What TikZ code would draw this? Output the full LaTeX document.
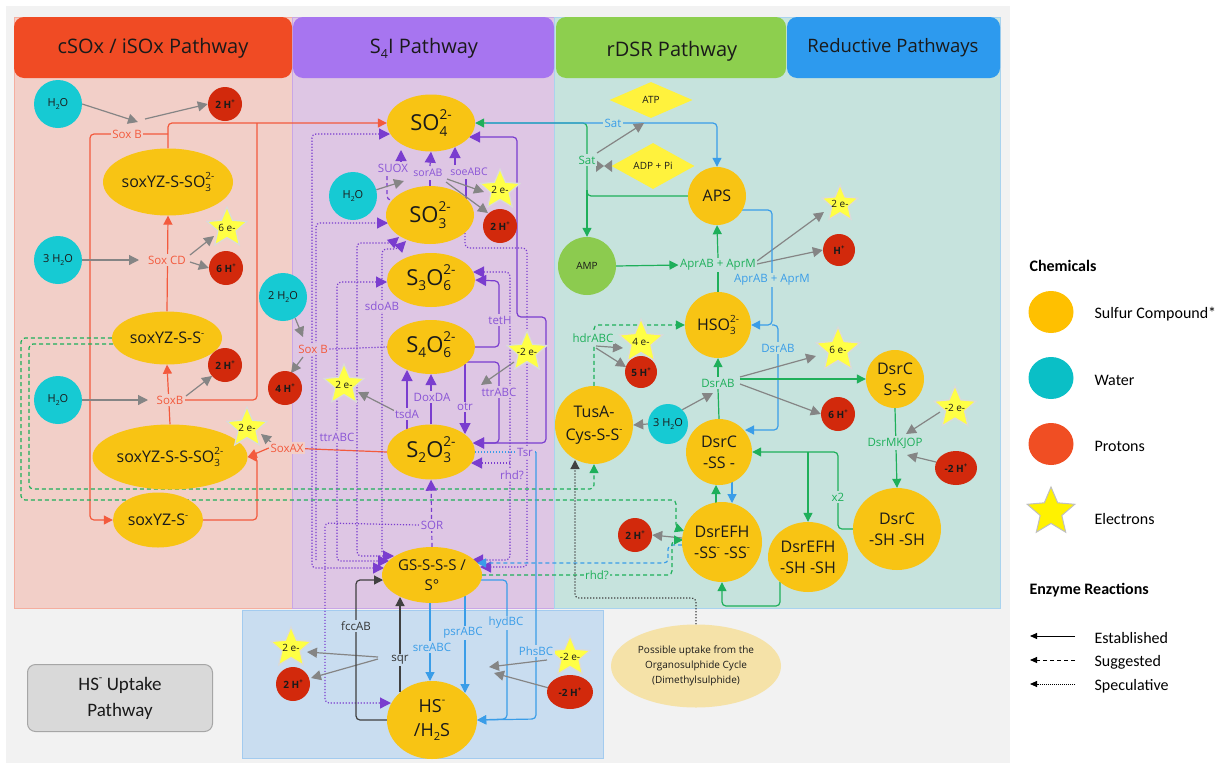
\documentclass[tikz,border=0pt]{standalone}
\usepackage{fontspec}
\setmainfont{Open Sans}
\newfontfamily\legfont{Carlito}
\usetikzlibrary{shapes.geometric,arrows.meta}
\pgfdeclarelayer{bg}
\pgfdeclarelayer{edges}
\pgfsetlayers{bg,edges,main}
\newcommand{\fsl}[2]{\fontsize{#1}{#2}\selectfont}
\newcommand{\chss}[2]{\mbox{\ooalign{\raisebox{-0.45ex}{\scalebox{0.62}{#1}}\cr\raisebox{0.95ex}{\scalebox{0.62}{#2}}\cr}}}
\newcommand{\chup}[1]{\raisebox{0.9ex}{\scalebox{0.6}{#1}}}
\newcommand{\chdn}[1]{\raisebox{-0.45ex}{\scalebox{0.62}{#1}}}
\newcommand{\cnode}[5]{\node[#1] (#2) at (#3) {};\node[font=#4,align=center,inner sep=0pt,text=txt] (#2-t) at (#2) {#5};}
\definecolor{txt}{HTML}{1A1A1A}
\definecolor{bgg}{HTML}{F2F2F2}
\definecolor{pnlred}{HTML}{F2CFC8}
\definecolor{pnlredb}{HTML}{F5AE9F}
\definecolor{hdred}{HTML}{F04B24}
\definecolor{pnlpur}{HTML}{DEC6E4}
\definecolor{pnlpurb}{HTML}{C9A6E6}
\definecolor{hdpur}{HTML}{A775F0}
\definecolor{pnlteal}{HTML}{C6E3DD}
\definecolor{pnltealb}{HTML}{A9D3EE}
\definecolor{hdgreen}{HTML}{8DCF4E}
\definecolor{hdblue}{HTML}{2D9AEE}
\definecolor{pnlblue}{HTML}{C9DDF0}
\definecolor{pnlblueb}{HTML}{A3CBEF}
\definecolor{sulf}{HTML}{F8C414}
\definecolor{water}{HTML}{16CAD3}
\definecolor{prot}{HTML}{D2290C}
\definecolor{elec}{HTML}{FFFF45}
\definecolor{elecb}{HTML}{DADADA}
\definecolor{lred}{HTML}{F35A3D}
\definecolor{lpur}{HTML}{7A3DCF}
\definecolor{tpur}{HTML}{8A55D6}
\definecolor{lgreen}{HTML}{1EAF5A}
\definecolor{lblue}{HTML}{3A9DE8}
\definecolor{lgray}{HTML}{858585}
\definecolor{ampg}{HTML}{8CCB4F}
\definecolor{diam}{HTML}{FFF23D}
\definecolor{upt}{HTML}{F5E2A8}
\definecolor{hsbox}{HTML}{D9D9D9}
\definecolor{legsul}{HTML}{FFC000}
\definecolor{legwat}{HTML}{0ABFC6}
\definecolor{legprot}{HTML}{F04E23}
\tikzset{
 sul/.style={ellipse, fill=sulf, inner sep=0pt},
 wat/.style={circle, fill=water, inner sep=0pt, minimum size=48},
 prot/.style={circle, fill=prot, inner sep=0pt, minimum size=34},
 elec/.style={star, star points=5, star point ratio=2.2, fill=elec, draw=elecb, line width=1.2pt, inner sep=0pt, minimum size=42},
 lab/.style={inner sep=1.5pt, font=\fsl{11.5}{12}},
 tipR/.style={-{Triangle[length=9pt,width=9pt]}},
 tipP/.style={-{Triangle[length=11pt,width=11pt]}},
 tipPP/.style={{Triangle[length=11pt,width=11pt]}-{Triangle[length=11pt,width=11pt]}},
 garr/.style={draw=lgray, line width=1.2pt, -{Triangle[length=10pt,width=10pt]}},
 rl/.style={draw=lred, line width=1.2pt, rounded corners=4pt},
 pl/.style={draw=lpur, line width=1.2pt, rounded corners=4pt},
 gl/.style={draw=lgreen, line width=1.2pt, rounded corners=4pt},
 bl/.style={draw=lblue, line width=1.2pt, rounded corners=4pt},
 kl/.style={draw=black!75, line width=1.2pt, rounded corners=4pt},
 spec/.style={dash pattern=on 1.2pt off 1.8pt},
 sugg/.style={dash pattern=on 4pt off 3pt},
}
\begin{document}
\begin{tikzpicture}[x=1pt,y=-1pt]
\useasboundingbox (0,0) rectangle (1226,766);
\begin{pgfonlayer}{bg}
\fill[white] (0,0) rectangle (1226,766);
\fill[bgg] (6,6) rectangle (1010,763);
\filldraw[fill=pnlred, draw=pnlredb, line width=1pt] (14,17) rectangle (292,608);
\filldraw[fill=pnlpur, draw=pnlpurb, line width=1pt] (292,17) rectangle (554,608);
\filldraw[fill=pnlteal, draw=pnltealb, line width=1pt] (554,17) rectangle (1000,608);
\filldraw[fill=pnlblue, draw=pnlblueb, line width=1pt] (242,610) rectangle (603,758);
\fill[hdred, rounded corners=10pt] (14,17) rectangle (292,78);
\fill[hdpur, rounded corners=10pt] (293,17) rectangle (554,78);
\fill[hdgreen, rounded corners=10pt] (556,17) rectangle (786,78);
\fill[hdblue, rounded corners=10pt] (787,17) rectangle (1000,78);
\end{pgfonlayer}
% titles
\node[font=\fsl{20}{22}, text=txt] (t1) at (153,48) {cSOx / iSOx Pathway};
\node[font=\fsl{20}{22}, text=txt] (t2) at (424,48) {S\chdn{4}I Pathway};
\node[font=\fsl{20}{22}, text=txt] (t3) at (672,51) {rDSR Pathway};
\node[font=\fsl{18.5}{22}, text=txt] (t4) at (893,48) {Reductive Pathways};
% ---- cSOx nodes
\cnode{sul,minimum width=130,minimum height=67}{sso3}{168,182}{\fsl{16}{20}}{soxYZ-S-SO\chss{3}{2-}}
\cnode{sul,minimum width=110,minimum height=53}{sss}{167,338}{\fsl{16}{20}}{soxYZ-S-S\chup{-}}
\cnode{sul,minimum width=155,minimum height=65}{sssso3}{170,457}{\fsl{16}{20}}{soxYZ-S-S-SO\chss{3}{2-}}
\cnode{sul,minimum width=90,minimum height=55}{ss}{158,520}{\fsl{16}{20}}{soxYZ-S\chup{-}}
\cnode{wat}{w1}{58,104}{\fsl{11}{13}}{H\chdn{2}O}
\cnode{wat}{w2}{58,260}{\fsl{11}{13}}{3 H\chdn{2}O}
\cnode{wat}{w3}{58,400}{\fsl{11}{13}}{H\chdn{2}O}
\cnode{wat}{w4}{283,297}{\fsl{11}{13}}{2 H\chdn{2}O}
\cnode{prot}{p1}{225,104}{\bfseries\fsl{10}{12}}{2 H\chup{+}}
\cnode{prot}{p2}{226,268}{\bfseries\fsl{10}{12}}{6 H\chup{+}}
\cnode{prot}{p3}{225,365}{\bfseries\fsl{10}{12}}{2 H\chup{+}}
\cnode{prot}{p4}{285,388}{\bfseries\fsl{10}{12}}{4 H\chup{+}}
\cnode{elec}{e1}{227,228}{\fsl{10}{12}}{6 e-}
\cnode{elec}{e2}{247,428}{\fsl{10}{12}}{2 e-}
\node[lab, text=lred, fill=pnlred] (soxb1) at (127,134) {Sox B};
\node[lab, text=lred, fill=pnlred] (soxcd) at (167,260) {Sox CD};
\node[lab, text=lred, fill=pnlred] (soxb2) at (170,400) {SoxB};
\node[lab, text=lred, fill=pnlred] (soxax) at (287,448) {SoxAX};
\node[lab, text=lred, fill=pnlpur] (soxb3) at (313,349) {Sox B};
% ---- S4I nodes
\cnode{sul,minimum width=88,minimum height=57}{so4}{431,123}{\fsl{22}{24}}{SO\chss{4}{2-}}
\cnode{sul,minimum width=88,minimum height=58}{so3}{430,215}{\fsl{22}{24}}{SO\chss{3}{2-}}
\cnode{sul,minimum width=88,minimum height=54}{s3o6}{431,280}{\fsl{22}{24}}{S\chdn{3}O\chss{6}{2-}}
\cnode{sul,minimum width=88,minimum height=54}{s4o6}{431,347}{\fsl{22}{24}}{S\chdn{4}O\chss{6}{2-}}
\cnode{sul,minimum width=88,minimum height=55}{s2o3}{431,452}{\fsl{22}{24}}{S\chdn{2}O\chss{3}{2-}}
\cnode{sul,minimum width=100,minimum height=56}{gs}{432,575}{\fsl{15}{20}}{GS-S-S-S /\\S°}
\cnode{sul,minimum width=90,minimum height=78}{hs}{432,720}{\fsl{18}{24}}{HS\chup{-}\\/H\chdn{2}S}
\cnode{wat}{w5}{353,196}{\fsl{11}{13}}{H\chdn{2}O}
\cnode{prot}{p5}{500,226}{\bfseries\fsl{10}{12}}{2 H\chup{+}}
\cnode{elec}{e3}{500,190}{\fsl{10}{12}}{2 e-}
\cnode{elec}{e4}{344,385}{\fsl{10}{12}}{2 e-}
\cnode{elec}{e5}{527,352}{\fsl{10}{12}}{-2 e-}
\node[lab, text=tpur, fill=pnlpur] (suox) at (393,168) {SUOX};
\node[lab, text=tpur, fill=pnlpur, font=\fsl{10.5}{12}, inner sep=1pt] (sorab) at (428,173) {sorAB};
\node[lab, text=tpur, fill=pnlpur, font=\fsl{10.5}{12}, inner sep=1pt] (soeabc) at (469,172) {soeABC};
\node[lab, text=tpur, fill=pnlpur] (sdoab) at (382,306) {sdoAB};
\node[lab, text=tpur, fill=pnlpur] (teth) at (500,320) {tetH};
\node[lab, text=tpur, fill=pnlpur] (ttrr) at (499,392) {ttrABC};
\node[lab, text=tpur, fill=pnlpur] (doxda) at (432,397) {DoxDA};
\node[lab, text=tpur, fill=pnlpur] (tsda) at (407,414) {tsdA};
\node[lab, text=tpur, fill=pnlpur] (otr) at (465,407) {otr};
\node[lab, text=tpur, fill=pnlpur] (ttrl) at (337,437) {ttrABC};
\node[lab, text=tpur, fill=pnlpur] (tsr) at (525,452) {Tsr};
\node[lab, text=tpur, fill=pnlpur] (rhdp) at (512,475) {rhd?};
\node[lab, text=tpur, fill=pnlpur] (sor) at (432,525) {SOR};
% ---- HS- uptake nodes
\cnode{prot}{p6}{293,684}{\bfseries\fsl{10}{12}}{2 H\chup{+}}
\cnode{elec}{e6}{291,648}{\fsl{10}{12}}{2 e-}
\cnode{elec}{e7}{570,657}{\fsl{10}{12}}{-2 e-}
\cnode{prot,ellipse,minimum width=46,minimum height=34}{p7}{570,692}{\bfseries\fsl{10}{12}}{-2 H\chup{+}}
\node[lab, text=black!80, fill=pnlblue] (fcc) at (356,626) {fccAB};
\node[lab, text=black!80, fill=pnlblue] (sqr) at (400,660) {sqr};
\node[lab, text=lblue, fill=pnlblue] (sre) at (432,647) {sreABC};
\node[lab, text=lblue, fill=pnlblue] (psr) at (463,633) {psrABC};
\node[lab, text=lblue, fill=pnlblue] (hyd) at (506,623) {hydBC};
\node[lab, text=lblue, fill=pnlblue] (phs) at (536,651) {PhsBC};
% ---- rDSR nodes
\cnode{sul,circle,minimum size=58}{aps}{717,196}{\fsl{16}{20}}{APS}
\cnode{circle,fill=ampg,inner sep=0pt,minimum size=58}{amp}{587,266}{\fsl{10}{12}}{AMP}
\cnode{diamond,fill=diam,inner sep=0pt,minimum width=83,minimum height=36}{atp}{651,100}{\fsl{10}{12}}{ATP}
\cnode{diamond,fill=diam,inner sep=0pt,minimum width=83,minimum height=46}{adp}{653,166}{\fsl{10}{12}}{ADP + Pi}
\cnode{sul,circle,minimum size=66}{hso3}{718,325}{\fsl{16}{20}}{HSO\chss{3}{2-}}
\cnode{sul,circle,minimum size=78}{tusa}{594,425}{\fsl{16}{23}}{TusA-\\Cys-S-S\chup{-}}
\cnode{sul,circle,minimum size=66}{dsrc}{719,452}{\fsl{16}{21}}{DsrC\\-SS -}
\cnode{sul,circle,minimum size=80}{dsrefh}{722,542}{\fsl{16}{21}}{DsrEFH\\-SS\chup{-} -SS\chup{-}}
\cnode{sul,minimum width=80,minimum height=70}{dsrefhsh}{808,557}{\fsl{16}{21}}{DsrEFH\\-SH -SH}
\cnode{sul,circle,minimum size=58}{dsrcss}{895,379}{\fsl{16}{21}}{DsrC\\S-S}
\cnode{sul,minimum width=88,minimum height=82}{dsrcsh}{897,529}{\fsl{16}{21}}{DsrC\\-SH -SH}
\cnode{wat,minimum size=40}{w6}{668,424}{\fsl{11}{13}}{3 H\chdn{2}O}
\cnode{prot,minimum size=32}{p8}{839,250}{\bfseries\fsl{10}{12}}{H\chup{+}}
\cnode{prot,minimum size=32}{p10}{641,372}{\bfseries\fsl{10}{12}}{5 H\chup{+}}
\cnode{prot}{p9}{838,414}{\bfseries\fsl{10}{12}}{6 H\chup{+}}
\cnode{prot,ellipse,minimum width=42,minimum height=34}{p11}{956,468}{\bfseries\fsl{10}{12}}{-2 H\chup{+}}
\cnode{prot}{p12}{635,535}{\bfseries\fsl{10}{12}}{2 H\chup{+}}
\cnode{elec,minimum size=38}{e8}{840,204}{\fsl{10}{12}}{2 e-}
\cnode{elec,minimum size=46}{e10}{641,342}{\fsl{10}{12}}{4 e-}
\cnode{elec,minimum size=46}{e9}{838,350}{\fsl{10}{12}}{6 e-}
\cnode{elec,minimum size=44}{e11}{955,408}{\fsl{10}{12}}{-2 e-}
\node[lab, text=lblue, fill=pnlteal] (satb) at (613,123) {Sat};
\node[lab, text=lgreen, fill=pnlteal] (satg) at (587,160) {Sat};
\node[lab, text=lgreen, fill=pnlteal] (aprg) at (718,265) {AprAB + AprM};
\node[lab, text=lblue, fill=pnlteal] (aprb) at (772,280) {AprAB + AprM};
\node[lab, text=lblue, fill=pnlteal] (dsrabb) at (778,348) {DsrAB};
\node[lab, text=lgreen, fill=pnlteal] (dsrabg) at (718,383) {DsrAB};
\node[lab, text=lgreen, fill=pnlteal] (hdr) at (593,338) {hdrABC};
\node[lab, text=lgreen, fill=pnlteal] (dsrm) at (895,443) {DsrMKJOP};
\node[lab, text=lgreen, fill=pnlteal] (x2) at (838,497) {x2};
\node[lab, text=lgreen, fill=pnlteal] (rhdg) at (597,575) {rhd?};
\cnode{ellipse,fill=upt,inner sep=0pt,minimum width=170,minimum height=83}{upt}{696,666}{\fsl{10}{15}\color{black!75}}{Possible uptake from the\\Organosulphide Cycle\\(Dimethylsulphide)}
% HS- uptake box
\node[draw=black!35, fill=hsbox, rounded corners=8pt, minimum width=185, minimum height=67, line width=1pt, font=\legfont\fsl{19}{26}, align=center, text=txt] (hsbox) at (120,698) {HS\chup{-} Uptake\\Pathway};
% legend
\node[anchor=west, font=\legfont\bfseries\fsl{16}{18}] (lchem) at (1026,266) {Chemicals};
\node[ellipse, fill=legsul, minimum width=45, minimum height=42, inner sep=0pt] (l1) at (1051,312) {};
\node[ellipse, fill=legwat, minimum width=45, minimum height=42, inner sep=0pt] (l2) at (1051,378) {};
\node[ellipse, fill=legprot, minimum width=45, minimum height=42, inner sep=0pt] (l3) at (1051,444) {};
\node[star, star points=5, star point ratio=2.2, fill=yellow, draw=black!25, line width=1pt, minimum size=50, inner sep=0pt] (l4) at (1051,512) {};
\node[anchor=west, font=\legfont\fsl{16}{18}] (l1t) at (1091,314) {Sulfur Compound*};
\node[anchor=west, font=\legfont\fsl{16}{18}] (l2t) at (1091,380) {Water};
\node[anchor=west, font=\legfont\fsl{16}{18}] (l3t) at (1091,446) {Protons};
\node[anchor=west, font=\legfont\fsl{16}{18}] (l4t) at (1091,519) {Electrons};
\node[anchor=west, font=\legfont\bfseries\fsl{16}{18}] (lenz) at (1026,590) {Enzyme Reactions};
\node[anchor=west, font=\legfont\fsl{16}{18}] (le1) at (1091,638) {Established};
\node[anchor=west, font=\legfont\fsl{16}{18}] (le2) at (1091,662) {Suggested};
\node[anchor=west, font=\legfont\fsl{16}{18}] (le3) at (1091,686) {Speculative};
\coordinate (la1) at (1075,636); \coordinate (lb1) at (1030,636);
\coordinate (la2) at (1075,660); \coordinate (lb2) at (1030,660);
\coordinate (la3) at (1075,684); \coordinate (lb3) at (1030,684);
\draw[black, line width=1pt, -{Triangle[length=7pt,width=6pt]}] (la1) -- (lb1);
\draw[black, line width=1pt, dash pattern=on 4pt off 3pt, -{Triangle[length=7pt,width=6pt]}] (la2) -- (lb2);
\draw[black, line width=0.8pt, dash pattern=on 1pt off 1pt, -{Triangle[length=7pt,width=6pt]}] (la3) -- (lb3);
% ================= EDGES
\begin{pgfonlayer}{edges}
% cSOx
\draw[rl,tipR] (sso3.north) |- (so4.west);
\draw[rl,tipR] (168,134) -- (90,134) -- (90,520) -- (ss.west);
\draw[rl,tipR] (sss.north) -- (sso3.south);
\draw[rl,tipR] (sssso3.north) -- (sss.south);
\draw[rl] (soxb2.center) -- (257,400) -- (257,123);
\draw[rl,tipR] (ss.east) -- (257,520) -- (257,457) -- (sssso3.east);
\draw[rl] (s2o3.west) -- (soxax.center);
\draw[rl,tipR] (soxax.west) -- (sssso3.east);
\draw[garr] (w1.east) -- (138,122);
\draw[garr] (145,119) -- (p1.west);
\draw[garr] (w2.east) -- (139,260);
\draw[garr] (190,255) -- (214,236);
\draw[garr] (190,262) -- (p2.west);
\draw[garr] (w3.east) -- (148,400);
\draw[garr] (186,396) -- (212,376);
\draw[garr] (272,443) -- (261,434);
\draw[garr] (w4.300) -- (303,337);
\draw[garr] (303,357) -- (291,373);
\draw[pl,spec] (soxb3.east) -- (s4o6.west);
\draw[gl,sugg,tipR] (sss.west) -- (21,338) -- (21,500) -- (676,500) -- (676,528) -- (684,531);
\draw[gl,sugg,tipR] (113,344) -- (29,344) -- (29,489) -- (594,489) -- (tusa.south);
% S4I
\draw[pl,tipP] (401,161) -- (401,150);
\draw[pl,sugg] (387,176) -- (387,200) -- (393,200);
\draw[pl,tipP] (430,166) -- (so4.south);
\draw[pl] (so3.north) -- (430,180);
\draw[pl,tipP] (455,165) -- (455,147);
\draw[pl] (466,179) -- (466,200);
\draw[garr] (w5.15) -- (404,181);
\draw[garr] (447,179) -- (484,192);
\draw[garr] (446,182) -- (488,213);
\draw[pl,tipP] (s2o3.north) -- (s4o6.south);
\draw[pl,tipP] (407,429) -- (407,370);
\draw[garr] (395,411) -- (358,392);
\draw[pl,tipP] (465,364) -- (465,434);
\draw[pl,tipP] (465,362) -- (499,362) -- (499,443) -- (473,443);
\draw[garr] (514,362) -- (481,385);
\draw[pl,tipP] (s4o6.east) -- (499,347) -- (499,281) -- (s3o6.east);
\draw[pl,tipPP] (469,137) -- (517,137) -- (517,317) -- (546,317) -- (546,443) -- (473,443);
\draw[pl,sugg,tipP] (gs.north) -- (s2o3.south);
\draw[pl,spec,tipP] (sor.west) -- (325,523) -- (325,703) -- (391,703);
\draw[pl,spec,tipPP] (390,134) -- (312,134) -- (312,568) -- (384,568);
\draw[pl,spec,tipP] (316,560) -- (316,223) -- (388,223);
\draw[pl,spec,tipPP] (387,282) -- (337,282) -- (337,561) -- (389,561);
\draw[pl,spec,tipPP] (394,556) -- (357,556) -- (357,243) -- (392,243) -- (399,237);
\draw[pl,spec,tipP] (382,552) -- (382,249) -- (398,249) -- (406,241);
\draw[pl,spec,tipP] (465,233) -- (465,248) -- (527,248) -- (527,567) -- (480,567);
\draw[pl,spec,tipPP] (473,272) -- (510,272) -- (510,560) -- (472,560);
\draw[pl,spec,tipP] (510,463) -- (471,463);
% Tsr / HS-
\draw[bl,spec] (s2o3.east) -- (536,452);
\draw[bl,tipR] (536,452) -- (536,719) -- (hs.east);
\draw[bl,tipR] (481,580) -- (507,580) -- (507,719) -- (hs.east);
\draw[bl,tipR] (465,596) -- (465,693);
\draw[bl,tipR] (430,603) -- (430,681);
\draw[kl,tipR] (400,692) -- (400,597);
\draw[garr] (378,657) -- (307,652);
\draw[garr] (378,659) -- (311,678);
\draw[kl,tipR] (hs.west) -- (356,720) -- (356,580) -- (383,580);
\draw[garr] (547,660) -- (489,667);
\draw[garr] (549,688) -- (494,673);
% rDSR
\draw[gl,tipR] (aps.west) -| (587,123) -- (so4.east);
\draw[bl,tipR] (486,123) -| (aps.north);
\draw[gl,tipR] (587,190) -- (amp.north);
\draw[garr] (597,153) -- (644,123);
\fill[lgray] (596,160) -- (604,166) -- (596,172) -- cycle;
\fill[lgray] (612,160) -- (604,166) -- (612,172) -- cycle;
\draw[gl,tipR] (amp.east) -- (aprg.west);
\draw[gl,tipR] (aprg.north) -- (aps.south);
\draw[gl] (hso3.north) -- (aprg.south);
\draw[garr] (757,261) -- (824,212);
\draw[garr] (757,264) -- (p8.west);
\draw[bl,tipR] (742,210) -- (772,210) -- (772,325) -- (hso3.east);
\draw[bl,tipR] (772,325) -- (778,325) -- (778,430) -- (745,430);
\draw[gl] (dsrc.north) -- (dsrabg.south);
\draw[gl,tipR] (dsrabg.north) -- (hso3.south);
\draw[gl,tipR] (740,379) -- (dsrcss.west);
\draw[garr] (740,377) -- (816,356);
\draw[garr] (740,384) -- (p9.west);
\draw[garr] (w6.45) -- (713,393);
\draw[garr] (w6.west) -- (tusa.east);
\draw[gl,sugg,tipR] (tusa.north) -- (594,325) -- (hso3.west);
\draw[garr] (596,346) -- (623,348);
\draw[garr] (596,348) -- (626,367);
\draw[gl,tipR] (dsrcss.south) -- (dsrcsh.north);
\draw[garr] (940,412) -- (906,434);
\draw[garr] (936,462) -- (907,455);
\draw[gl,tipR] (dsrcsh.west) -- (838,529) -- (838,452) -- (dsrc.east);
\draw[gl,tipR] (808,452) -- (dsrefhsh.north);
\draw[gl,tipR] (716,503) -- (716,485);
\draw[bl,tipR] (732,482) -- (732,503);
\draw[gl,tipR] (780,582) -- (780,606) -- (722,606) -- (dsrefh.south);
\draw[garr] (682,538) -- (p12.east);
\draw[bl,sugg,tipR] (682,545) -- (668,545) -- (668,563) -- (477,563);
\draw[gl,sugg,tipR] (482,575) -- (672,575) -- (672,540) -- (683,540);
\draw[kl,spec,tipR] (upt.north) -- (696,598) -- (575,598) -- (575,460);
\end{pgfonlayer}
\end{tikzpicture}
\end{document}
